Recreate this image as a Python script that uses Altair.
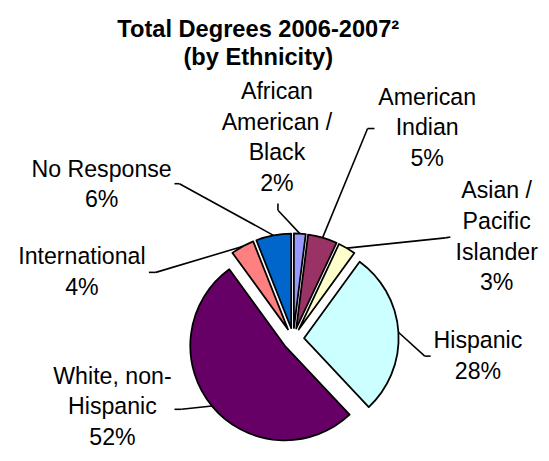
import math
import altair as alt
import pandas as pd

# ---- data ----
CATEGORIES = ["African American / Black", "American Indian", "Asian / Pacific Islander",
              "Hispanic", "White, non-Hispanic", "International", "No Response"]
PERCENTS = [2, 5, 3, 28, 52, 4, 6]
COLORS = ["#9999FF", "#993366", "#FFFFCC", "#CCFFFF", "#660066", "#FF8080", "#0066CC"]
LABEL_LINES = [["African", "American /", "Black"], ["American", "Indian"],
               ["Asian /", "Pacific", "Islander"], ["Hispanic"], ["White, non-", "Hispanic"],
               ["International"], ["No Response"]]
TITLE = ["Total Degrees 2006-2007\u00b2", "(by Ethnicity)"]

# ---- layout (pixels in the plot area) ----
CX, CY, RADIUS, EXPLODE = 289.5, 260.5, 96, 11
LABEL_POS = {  # centre x, first baseline y of each callout
    "African American / Black": (273, 17),
    "American Indian": (425.5, 23),
    "Asian / Pacific Islander": (496, 118),
    "Hispanic": (477, 270),
    "White, non-Hispanic": (106, 306),
    "International": (75, 185),
    "No Response": (95, 96),
}
LEADER_START = {  # label end and elbow of each leader line
    "African American / Black": (274, 123, 274, 130),
    "American Indian": (372, 47, 365, 47),
    "Asian / Pacific Islander": (449, 157, 444, 158),
    "Hispanic": (429, 278, 423, 278),
    "White, non-Hispanic": (169, 332, 176, 332),
    "International": (143, 193, 150, 193),
    "No Response": (169, 103, 174, 103),
}

rows = []
for i, (c, v, lines) in enumerate(zip(CATEGORIES, PERCENTS, LABEL_LINES)):
    lx, ly = LABEL_POS[c]
    sx, sy, ex, ey = LEADER_START[c]
    rows.append(dict(idx=i, category=c, value=v,
                     label="\n".join(lines + [f"{v}%"]),
                     lx=lx, ly=ly, sx=sx, sy=sy, ex=ex, ey=ey))
df = pd.DataFrame(rows)

base = (
    alt.Chart(df)
    .transform_window(cum="sum(value)", sort=[alt.SortField("idx")], frame=[None, 0])
    .transform_joinaggregate(total="sum(value)")
    .transform_calculate(start="datum.cum - datum.value")
    .transform_calculate(mid="(datum.cum - datum.value / 2) / datum.total * 2 * PI")
    .transform_calculate(cx=f"{CX} + {EXPLODE} * sin(datum.mid)")
    .transform_calculate(cy=f"{CY} - {EXPLODE} * cos(datum.mid)")
    .transform_calculate(px=f"datum.cx + {RADIUS} * sin(datum.mid)")
    .transform_calculate(py=f"datum.cy - {RADIUS} * cos(datum.mid)")
)

arcs = base.mark_arc(radius=RADIUS, stroke="black", strokeWidth=1.8, strokeJoin="round").encode(
    theta=alt.Theta("start:Q", stack=None,
                    scale=alt.Scale(domain=[0, sum(PERCENTS)], range=[0, 2 * math.pi])),
    theta2="cum:Q",
    x=alt.X("cx:Q", scale=None, axis=None),
    y=alt.Y("cy:Q", scale=None, axis=None),
    color=alt.Color("category:N", scale=alt.Scale(domain=CATEGORIES, range=COLORS), legend=None),
)

lead1 = base.mark_rule(color="black", strokeWidth=1.6).encode(
    x=alt.X("sx:Q", scale=None, axis=None), y=alt.Y("sy:Q", scale=None, axis=None),
    x2="ex:Q", y2="ey:Q")
lead2 = base.mark_rule(color="black", strokeWidth=1.6).encode(
    x=alt.X("ex:Q", scale=None, axis=None), y=alt.Y("ey:Q", scale=None, axis=None),
    x2="px:Q", y2="py:Q")

labels = base.transform_calculate(lines="split(datum.label, '\\n')").mark_text(
    font="Liberation Sans", fontSize=23.5, lineHeight=31, align="center",
    baseline="alphabetic", color="black").encode(
    x=alt.X("lx:Q", scale=None, axis=None), y=alt.Y("ly:Q", scale=None, axis=None),
    text="lines:N")

chart = alt.layer(arcs, lead1, lead2, labels).properties(
    width=541, height=373,
    padding={"top": 72, "left": 0, "right": 0, "bottom": 0},
    autosize=alt.AutoSizeParams(type="none"),
    title=alt.TitleParams(TITLE, font="Liberation Sans", fontSize=24, fontWeight="bold",
                          lineHeight=29, anchor="middle", color="black", offset=10, dx=-16.5),
).configure_view(strokeWidth=0)

chart.save("out.html", embed_options={"renderer": "svg", "actions": False})
